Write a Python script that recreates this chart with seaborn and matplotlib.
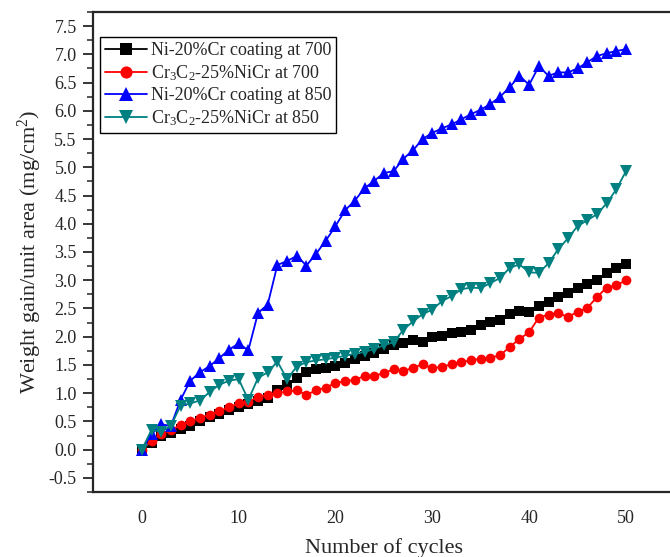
import numpy as np
import pandas as pd
import matplotlib
matplotlib.use("Agg")
import matplotlib.pyplot as plt
from matplotlib.ticker import MultipleLocator, FormatStrFormatter
import seaborn as sns

cycles = list(range(0, 51))

ni_700 = [0.0, 0.12, 0.25, 0.30, 0.36, 0.42, 0.50, 0.57, 0.63, 0.70,
          0.76, 0.80, 0.86, 0.92, 1.05, 1.15, 1.26, 1.37, 1.42, 1.45,
          1.48, 1.54, 1.60, 1.65, 1.71, 1.78, 1.85, 1.89, 1.95, 1.90,
          1.99, 2.02, 2.06, 2.08, 2.11, 2.20, 2.26, 2.30, 2.41, 2.45,
          2.43, 2.54, 2.61, 2.70, 2.78, 2.87, 2.93, 3.01, 3.13, 3.22, 3.28]

cr_700 = [0.0, 0.15, 0.28, 0.35, 0.43, 0.50, 0.56, 0.62, 0.68, 0.75,
          0.82, 0.85, 0.93, 0.97, 1.00, 1.03, 1.05, 0.97, 1.05, 1.10,
          1.18, 1.21, 1.24, 1.30, 1.30, 1.36, 1.42, 1.39, 1.45, 1.51,
          1.44, 1.47, 1.51, 1.55, 1.58, 1.61, 1.63, 1.67, 1.82, 1.96,
          2.08, 2.34, 2.39, 2.42, 2.35, 2.44, 2.51, 2.70, 2.87, 2.91, 3.00]

ni_850 = [0.0, 0.27, 0.45, 0.42, 0.88, 1.22, 1.37, 1.48, 1.62, 1.77,
          1.88, 1.76, 2.42, 2.57, 3.27, 3.34, 3.43, 3.26, 3.47, 3.70,
          3.96, 4.24, 4.41, 4.63, 4.76, 4.90, 4.93, 5.15, 5.30, 5.50,
          5.61, 5.69, 5.76, 5.85, 5.94, 6.02, 6.12, 6.25, 6.42, 6.62,
          6.46, 6.79, 6.62, 6.68, 6.68, 6.75, 6.86, 6.97, 7.02, 7.06, 7.09]

cr_850 = [0.0, 0.35, 0.32, 0.42, 0.78, 0.82, 0.87, 1.02, 1.15, 1.22,
          1.25, 0.88, 1.27, 1.37, 1.56, 1.25, 1.47, 1.55, 1.58, 1.60,
          1.63, 1.66, 1.70, 1.73, 1.78, 1.85, 1.90, 2.12, 2.27, 2.40,
          2.48, 2.63, 2.72, 2.84, 2.87, 2.86, 2.95, 3.04, 3.22, 3.28,
          3.14, 3.13, 3.30, 3.55, 3.74, 3.96, 4.06, 4.17, 4.36, 4.61, 4.93]

labels = ["Ni-20%Cr coating at 700",
          "Cr$_3$C$_2$-25%NiCr at 700",
          "Ni-20%Cr coating at 850",
          "Cr$_3$C$_2$-25%NiCr at 850"]

x_ticks = [0, 10, 20, 30, 40, 50]
xlabel = "Number of cycles"
ylabel = "Weight gain/unit area (mg/cm$^2$)"

sns.set_style("ticks")
plt.rcParams["font.family"] = ["Liberation Serif", "DejaVu Serif"]
plt.rcParams["mathtext.fontset"] = "custom"
plt.rcParams["mathtext.rm"] = "Liberation Serif"
plt.rcParams["mathtext.it"] = "Liberation Serif:italic"
plt.rcParams["axes.unicode_minus"] = False

fig = plt.figure(figsize=(6.7, 5.57), dpi=100)
ax = fig.add_axes([93.4 / 670, 65 / 557, (674.4 - 93.4) / 670, 480 / 557])

series = [ni_700, cr_700, ni_850, cr_850]
colors = ["#000000", "#ff0000", "#0000ff", "#008080"]
markers = ["s", "o", "^", "v"]
msizes = [7, 7, 8.5, 8.5]

for vals, lab, c, m, ms in zip(series, labels, colors, markers, msizes):
    df = pd.DataFrame({"cycle": cycles, "gain": vals})
    sns.lineplot(data=df, x="cycle", y="gain", ax=ax, color=c, marker=m,
                 markersize=ms, markeredgewidth=0, linewidth=1.3, label=lab)

ax.set_xlim(-5, 55)
ax.set_ylim(-0.75, 7.75)
ax.set_xticks(x_ticks)
ax.yaxis.set_major_locator(MultipleLocator(0.5))
ax.yaxis.set_minor_locator(MultipleLocator(0.25))
ax.yaxis.set_major_formatter(FormatStrFormatter("%.1f"))
ax.tick_params(axis="x", length=0, pad=13, labelsize=13)
ax.tick_params(axis="y", which="major", direction="out", length=7, width=1.3,
               pad=5, labelsize=13)
ax.tick_params(axis="y", which="minor", direction="out", length=4, width=1.1)
for s in ax.spines.values():
    s.set_linewidth(1.6)
    s.set_visible(True)

ax.set_xlabel(xlabel, fontsize=16, labelpad=8)
ax.set_ylabel(ylabel, fontsize=16, labelpad=3)

leg = ax.legend(loc="upper left", bbox_to_anchor=(0.0114, 0.948),
                borderaxespad=0, fontsize=13, frameon=True, fancybox=False,
                handlelength=2.3, handletextpad=0.2, labelspacing=0.22,
                borderpad=0.3, markerscale=1.25)
leg.get_frame().set_edgecolor("black")
leg.get_frame().set_linewidth(1.0)
leg.get_frame().set_alpha(1)

fig.savefig("out.png", dpi=100)
